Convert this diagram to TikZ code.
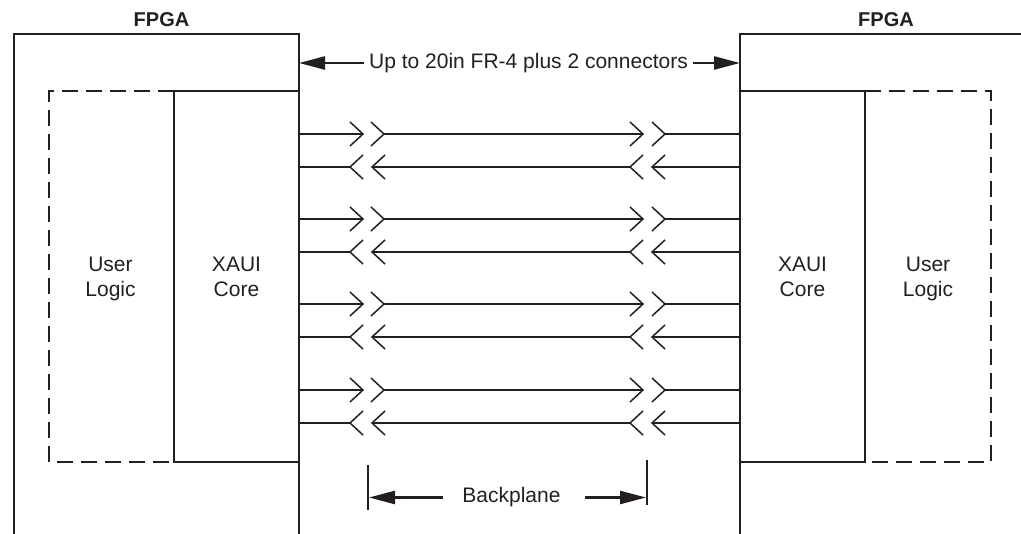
\documentclass[tikz,border=0pt]{standalone}
\usepackage{fontspec}
\setmainfont{Liberation Sans}
\usetikzlibrary{arrows.meta}
\definecolor{ink}{HTML}{231F20}
\tikzset{
  boxline/.style={draw=ink, line width=2.7pt, line cap=rect},
  dashline/.style={draw=ink, line width=2.7pt, dash pattern=on 16pt off 8pt},
  sig/.style={draw=ink, line width=1.5pt},
  corebox/.style={draw=ink, text=ink, line width=2.7pt, minimum width=125pt, minimum height=371pt, inner sep=0pt, align=center, font=\fontsize{21}{25}\selectfont},
  lbl/.style={text=ink, align=center, font=\fontsize{21}{25}\selectfont, inner sep=0pt},
  title/.style={text=ink, font=\fontsize{20}{24}\selectfont\bfseries, inner sep=0pt},
  dimarrow/.style={draw=ink, line width=2.5pt, -{Triangle[length=26pt,width=13pt]}},
  tick/.style={draw=ink, line width=2.5pt}
}
\begin{document}
\begin{tikzpicture}[x=1pt,y=-1pt]
\useasboundingbox (0,0) rectangle (1021,534);
% FPGA outlines (open at bottom)
\draw[boxline] (14,534) -- (14,34) -- (299,34) -- (299,534);
\draw[boxline] (740,534) -- (740,34) -- (1021,34);
\node[title] (fpgaL) at (161.5,20) {FPGA};
\node[title] (fpgaR) at (886,20) {FPGA};
% user logic dashed
\draw[dashline] (174,91) -- (49,91) -- (49,462) -- (174,462);
\draw[dashline] (865,91) -- (991,91) -- (991,462) -- (865,462);
\node[lbl] (ulL) at (110.5,279) {User\\Logic};
\node[lbl] (ulR) at (928,279) {User\\Logic};
% XAUI cores
\node[corebox] (xauiL) at (236.5,276.5) {XAUI\\Core};
\node[corebox] (xauiR) at (802.5,276.5) {XAUI\\Core};
% top dimension
\node[lbl, fill=white, inner xsep=5pt] (span) at (528.5,63) {Up to 20in FR-4 plus 2 connectors};
\coordinate (spanL) at (299,63);
\coordinate (spanR) at (740,63);
\draw[dimarrow] (span.west) -- (spanL);
\draw[dimarrow] (span.east) -- (spanR);
% forward signal lines
\foreach \y in {134,219,304,390}{
  \draw[sig] (299,\y) -- (363,\y);
  \draw[sig] (350,\y-12) -- (363,\y) -- (350,\y+12);
  \draw[sig] (371,\y-12) -- (384,\y) -- (371,\y+12);
  \draw[sig] (384,\y) -- (643,\y);
  \draw[sig] (630,\y-12) -- (643,\y) -- (630,\y+12);
  \draw[sig] (652,\y-12) -- (665,\y) -- (652,\y+12);
  \draw[sig] (665,\y) -- (740,\y);
}
% reverse signal lines
\foreach \y in {167,252,337,423}{
  \draw[sig] (299,\y) -- (350,\y);
  \draw[sig] (363,\y-12) -- (350,\y) -- (363,\y+12);
  \draw[sig] (385,\y-12) -- (372,\y) -- (385,\y+12);
  \draw[sig] (372,\y) -- (630,\y);
  \draw[sig] (643,\y-12) -- (630,\y) -- (643,\y+12);
  \draw[sig] (665,\y-12) -- (652,\y) -- (665,\y+12);
  \draw[sig] (652,\y) -- (740,\y);
}
% backplane dimension
\draw[tick] (368,465) -- (368,510);
\draw[tick] (647,460) -- (647,505);
\node[lbl] (bp) at (511.5,497) {Backplane};
\coordinate (bpL) at (369,497.5);
\coordinate (bpR) at (646,497.5);
\coordinate (bpLs) at (443,497.5);
\coordinate (bpRs) at (585,497.5);
\draw[dimarrow] (bpLs) -- (bpL);
\draw[dimarrow] (bpRs) -- (bpR);
\end{tikzpicture}
\end{document}
